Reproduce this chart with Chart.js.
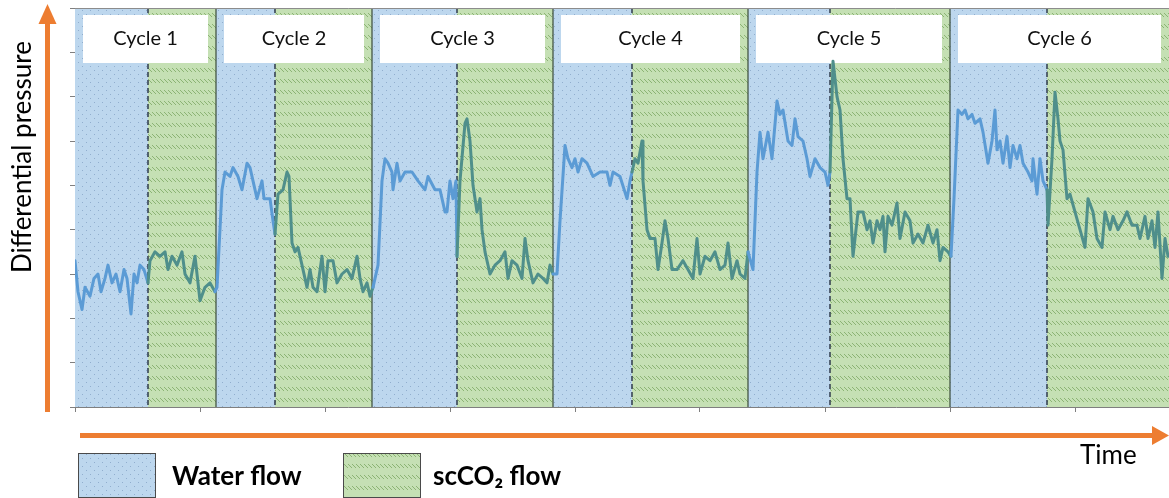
<!DOCTYPE html>
<html>
<head>
<meta charset="utf-8">
<script src="https://cdn.jsdelivr.net/npm/chart.js@4.4.0/dist/chart.umd.min.js"></script>
<style>
  html, body { margin: 0; padding: 0; background: #fff; }
  #wrap { width: 1169px; height: 498px; }
</style>
</head>
<body>
<div id="wrap"><canvas id="chart" width="1169" height="498"></canvas></div>
<script>
// Time (arbitrary units, one tick every 25) and differential pressure (arbitrary units, tick every 10)
const time = [
  // cycle 1
  0, 0.6, 1.4, 2, 3, 3.8, 4.6, 5.2, 6, 6.6, 7.4, 8.2, 9, 9.8, 10.4, 11.2, 11.8, 12.4, 13, 13.8, 14.6,
  15, 16, 17, 18, 18.6, 19.4, 20.4, 21.4, 22, 23, 24, 25, 26, 27, 28,
  // cycle 2
  28.4, 29.4, 30, 31, 31.6, 32.6, 33.4, 34.4, 35, 35.6, 36.4, 37.4, 37.8, 39, 39.6, 40,
  40.6, 41.6, 42.4, 42.8, 43.4, 44, 44.6, 45.4, 46.4, 47, 47.6, 48.4, 49.4, 50, 50.6, 51.6, 52.4, 53.4, 54.4, 55.4, 56.4, 57, 57.6, 58.4, 59,
  // cycle 3
  59.6, 60.6, 61.4, 62, 62.6, 63.4, 63.6, 64.4, 65, 66, 67.4, 68.6, 70, 70.6, 72, 73, 74, 74.4, 75, 75.6, 76.2, 76.4,
  77, 78, 78.4, 79, 79.6, 80.4, 81, 81.4, 82, 83, 84, 85, 86, 86.6, 87.4, 88.4, 89.4, 90, 90.6, 91.6, 92.6, 93.6, 94.4, 95, 95.6,
  // cycle 4
  96.4, 97, 98, 98.6, 99.4, 100, 100.6, 101.4, 102.4, 103.6, 105, 106.4, 107, 107.6, 109, 110.4, 111, 111.4,
  112, 112.6, 113.4, 113.6, 114.4, 115, 116, 116.6, 117.4, 118, 118.6, 119.4, 120.4, 121.6, 122.6, 123.6, 124.4, 125, 126, 127, 128, 129, 130, 130.6, 131.4, 132.4, 133, 134,
  // cycle 5
  134.6, 135.6, 136.4, 137, 137.6, 138.6, 139.4, 140.4, 141, 141.6, 142.6, 143.4, 144, 144.6, 145.6, 146.4, 147, 148, 149, 150, 150.6, 151,
  151.6, 152.4, 153, 153.6, 154.4, 155, 155.6, 156.6, 157.6, 158.4, 159, 159.6, 160.4, 161, 161.6, 162, 162.6, 163.4, 164.4, 165, 166, 167, 167.6, 168.6, 169.6, 170.6, 171.6, 172.4, 173, 173.6, 174.6,
  // cycle 6
  175.2, 175.8, 176.6, 177.4, 178, 178.6, 179.4, 180, 181, 181.6, 182.6, 183.4, 184, 184.4, 185, 185.6, 186.4, 187, 187.6, 188.4, 189, 189.6, 190.6, 191.4, 191.6, 192.4, 193, 193.6, 194.4, 194.6,
  195.4, 196, 196.6, 197, 197.6, 198.4, 199, 200, 201, 202, 202.6, 203.6, 204.4, 205.4, 206, 207, 207.6, 208.6, 209.6, 210.4, 211.4, 212.4, 213, 214, 214.6, 215.4, 216, 216.6, 217.4, 218, 218.6
];
const pressure = [
  // cycle 1
  33, 26, 22, 27, 25, 29, 30, 26, 29, 32, 28, 30, 26, 31, 29, 21, 30, 28, 32, 31, 28,
  33, 35, 34, 35, 31, 34, 32, 35, 30, 28, 34, 24, 27, 28, 26,
  // cycle 2
  27, 49, 53, 52, 54, 52, 49, 55, 54, 51, 47, 51, 47, 47, 42, 39,
  48, 49, 53, 52, 37, 35, 36, 32, 27, 31, 27, 26, 34, 26, 33, 33, 28, 30, 31, 29, 34, 29, 26, 28, 25,
  // cycle 3
  27, 32, 51, 56, 55, 53, 49, 55, 51, 53, 53, 51, 49, 52, 49, 49, 44, 44, 51, 47, 51, 34,
  51, 64, 65, 60, 50, 44, 47, 40, 35, 30, 32, 33, 35, 29, 33, 32, 29, 38, 33, 28, 30, 29, 28, 32, 30,
  // cycle 4
  30, 42, 59, 56, 54, 56, 53, 56, 55, 52, 53, 53, 50, 53, 52, 47, 51, 53,
  56, 55, 60, 51, 40, 38, 38, 31, 37, 42, 38, 31, 31, 33, 31, 29, 38, 30, 34, 33, 35, 31, 32, 37, 29, 33, 30, 29,
  // cycle 5
  35, 31, 53, 62, 56, 62, 56, 69, 66, 67, 60, 59, 65, 61, 60, 56, 52, 56, 54, 53, 50, 53,
  78, 70, 67, 56, 47, 47, 34, 44, 44, 40, 42, 37, 42, 40, 43, 35, 43, 41, 46, 38, 44, 42, 37, 39, 37, 41, 37, 40, 33, 36, 35,
  // cycle 6
  34, 47, 67, 66, 67, 65, 66, 64, 65, 62, 55, 60, 67, 58, 60, 55, 61, 54, 59, 56, 59, 55, 53, 51, 56, 48, 56, 51, 49, 41,
  56, 71, 65, 60, 58, 47, 48, 44, 40, 36, 47, 44, 38, 36, 44, 40, 43, 40, 42, 44, 41, 41, 38, 43, 38, 42, 36, 44, 29, 38, 34
];

const cycleLabels = ['Cycle 1', 'Cycle 2', 'Cycle 3', 'Cycle 4', 'Cycle 5', 'Cycle 6'];
const cycleStart = [0, 28.2, 59.4, 95.6, 134.6, 175];
const co2Start = [14.6, 40, 76.4, 111.4, 151, 194.4];
const cycleEnd = [28.2, 59.4, 95.6, 134.6, 175, 218.8];

const WATER_LINE = '#5b9bd5';
const CO2_LINE = '#4f8f8b';
const ORANGE = '#ed7d31';
const FONT = 'Lato, "Open Sans", sans-serif';

function makeWaterPattern() {
  const c = document.createElement('canvas');
  c.width = 8; c.height = 8;
  const g = c.getContext('2d');
  g.fillStyle = '#bdd7ee';
  g.fillRect(0, 0, 8, 8);
  g.fillStyle = 'rgba(110,140,180,0.55)';
  g.fillRect(2, 2, 1, 1);
  g.fillRect(6, 6, 1, 1);
  return g.createPattern(c, 'repeat');
}

function makeCo2Pattern() {
  const c = document.createElement('canvas');
  c.width = 4; c.height = 11;
  const g = c.getContext('2d');
  g.fillStyle = '#c5e0b4';
  g.fillRect(0, 0, 4, 11);
  g.strokeStyle = 'rgba(120,165,95,0.75)';
  g.lineWidth = 1;
  g.beginPath();
  g.moveTo(0, 2);
  g.lineTo(4, 6);
  g.stroke();
  return g.createPattern(c, 'repeat');
}

const waterPattern = makeWaterPattern();
const co2Pattern = makeCo2Pattern();

function isCo2(t) {
  for (let i = 0; i < cycleStart.length; i++) {
    if (t >= co2Start[i] && t < cycleEnd[i]) return true;
  }
  return false;
}

const bandsPlugin = {
  id: 'bands',
  beforeDatasetsDraw(chart) {
    const { ctx, chartArea: a, scales: { x } } = chart;
    ctx.save();
    cycleStart.forEach((s, i) => {
      const x0 = x.getPixelForValue(s);
      const x1 = x.getPixelForValue(co2Start[i]);
      const x2 = Math.min(x.getPixelForValue(cycleEnd[i]), a.right);
      ctx.fillStyle = waterPattern;
      ctx.fillRect(x0, a.top, x1 - x0, a.bottom - a.top);
      ctx.fillStyle = co2Pattern;
      ctx.fillRect(x1, a.top, x2 - x1, a.bottom - a.top);

      // dashed line between water and scCO2
      ctx.strokeStyle = '#2f3b4c';
      ctx.lineWidth = 1.5;
      ctx.setLineDash([5, 3]);
      ctx.beginPath();
      ctx.moveTo(x1, a.top);
      ctx.lineTo(x1, a.bottom);
      ctx.stroke();
      ctx.setLineDash([]);

      // solid line between cycles
      if (i > 0) {
        ctx.strokeStyle = '#3a4a3a';
        ctx.lineWidth = 1.2;
        ctx.beginPath();
        ctx.moveTo(x0, a.top);
        ctx.lineTo(x0, a.bottom);
        ctx.stroke();
      }

      // cycle label box
      const bx0 = x0 + 8, bx1 = x2 - 8;
      ctx.fillStyle = '#ffffff';
      ctx.fillRect(bx0, a.top + 7, bx1 - bx0, 48);
      ctx.fillStyle = '#111';
      ctx.font = '20px ' + FONT;
      ctx.textAlign = 'center';
      ctx.textBaseline = 'middle';
      ctx.fillText(cycleLabels[i], (bx0 + bx1) / 2, a.top + 31);
    });
    // top border
    ctx.strokeStyle = '#8c8c8c';
    ctx.lineWidth = 1;
    ctx.beginPath();
    ctx.moveTo(a.left, a.top + 0.5);
    ctx.lineTo(a.right, a.top + 0.5);
    ctx.stroke();
    ctx.restore();
  },
  afterDraw(chart) {
    const { ctx } = chart;
    ctx.save();
    ctx.fillStyle = ORANGE;
    // vertical arrow
    ctx.fillRect(45, 22, 5, 390);
    ctx.beginPath();
    ctx.moveTo(47.5, 4);
    ctx.lineTo(56.5, 24);
    ctx.lineTo(38.5, 24);
    ctx.closePath();
    ctx.fill();
    // horizontal arrow
    ctx.fillRect(80, 433, 1075, 5);
    ctx.beginPath();
    ctx.moveTo(1169, 435.5);
    ctx.lineTo(1152, 426);
    ctx.lineTo(1152, 445);
    ctx.closePath();
    ctx.fill();

    // axis titles
    ctx.fillStyle = '#000';
    ctx.font = '26px ' + FONT;
    ctx.textBaseline = 'middle';
    ctx.textAlign = 'left';
    ctx.fillText('Time', 1080, 456);
    ctx.save();
    ctx.translate(23, 157);
    ctx.rotate(-Math.PI / 2);
    ctx.textAlign = 'center';
    ctx.fillText('Differential pressure', 0, 0);
    ctx.restore();

    // legend
    ctx.fillStyle = waterPattern;
    ctx.fillRect(78, 453, 77, 44);
    ctx.strokeStyle = '#4a4a4a';
    ctx.lineWidth = 1;
    ctx.strokeRect(78.5, 453.5, 77, 44);
    ctx.fillStyle = co2Pattern;
    ctx.fillRect(343, 453, 77, 44);
    ctx.strokeRect(343.5, 453.5, 77, 44);
    ctx.fillStyle = '#000';
    ctx.font = 'bold 26px ' + FONT;
    ctx.fillText('Water flow', 172, 477);
    ctx.fillText('scCO\u2082 flow', 433, 477);
    ctx.restore();
  }
};

new Chart(document.getElementById('chart'), {
  type: 'line',
  data: {
    datasets: [{
      data: time.map((t, i) => ({ x: t, y: pressure[i] })),
      borderColor: WATER_LINE,
      borderWidth: 3,
      borderJoinStyle: 'round',
      borderCapStyle: 'round',
      pointRadius: 0,
      tension: 0,
      segment: {
        borderColor: c => isCo2((c.p0.parsed.x + c.p1.parsed.x) / 2) ? CO2_LINE : WATER_LINE
      }
    }]
  },
  options: {
    responsive: false,
    animation: false,
    layout: { padding: { top: 8, left: 0, right: 0, bottom: 0 } },
    plugins: { legend: { display: false }, tooltip: { enabled: false } },
    scales: {
      x: {
        type: 'linear',
        min: 0,
        max: 218.8,
        ticks: { display: false, stepSize: 25, includeBounds: false },
        grid: { drawOnChartArea: false, drawTicks: true, tickLength: 5, color: '#7f7f7f' },
        border: { display: true, color: '#7f7f7f' },
        afterFit: s => { s.height = 91; }
      },
      y: {
        min: 0,
        max: 90,
        ticks: { display: false, stepSize: 10 },
        grid: { drawOnChartArea: false, drawTicks: true, tickLength: 5, color: '#7f7f7f' },
        border: { display: true, color: '#7f7f7f' },
        afterFit: s => { s.width = 75; }
      }
    }
  },
  plugins: [bandsPlugin]
});
</script>
</body>
</html>
